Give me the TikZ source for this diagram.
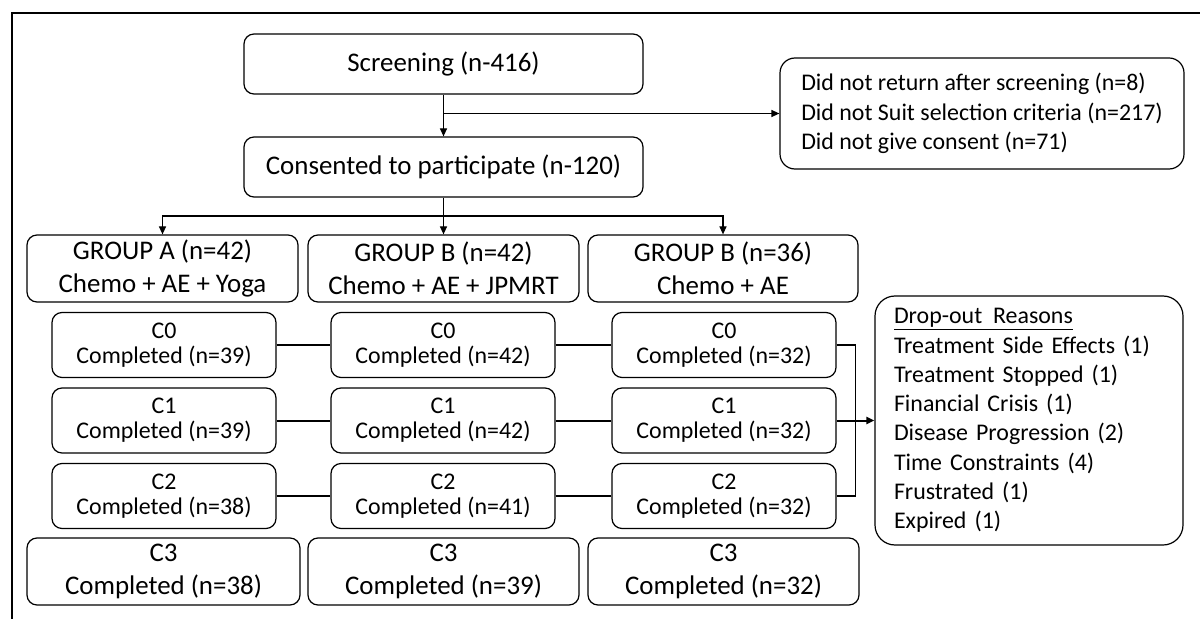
\documentclass[tikz,border=0pt]{standalone}
\usepackage{fontspec}
\setmainfont{Carlito}
\usepackage{tikz}
\usetikzlibrary{arrows.meta,positioning,calc}

\tikzset{
  box/.style={draw, rounded corners=10bp, line width=1.2bp, align=center, inner sep=0pt},
  bigbox/.style={box, minimum height=67bp, font=\fontsize{27}{33}\selectfont},
  visbox/.style={box, minimum width=224bp, minimum height=65bp, font=\fontsize{24}{25}\selectfont},
  listbox/.style={draw, line width=1.2bp, align=left, inner ysep=0pt, font=\fontsize{24}{29.4}\selectfont},
  arr/.style={line width=1.2bp, -{Triangle[length=8bp,width=7bp]}},
  link/.style={line width=2bp},
}

\begin{document}
\begin{tikzpicture}[x=1bp,y=-1bp]
        \useasboundingbox (0,0) rectangle (1200,619);
        \draw[line width=2bp] (12,619) -- (12,13) -- (1200,13);

        % enrolment
        \node[box, minimum width=399bp, minimum height=60bp, font=\fontsize{27}{33}\selectfont] (scr) at (443.5,64) {Screening (n-416)};
        \node[box, minimum width=399bp, minimum height=60bp, font=\fontsize{27}{33}\selectfont] (cons) at (443.5,167) {Consented to participate (n-120)};
        \node[listbox, rounded corners=15bp, minimum width=404bp, minimum height=111bp] (excl) at (982,113.5)
            {Did not return after screening (n=8)\\Did not Suit selection criteria (n=217)\\Did not give consent (n=71)};
        \draw[arr] (scr) -- (cons);
        \draw[arr] (scr.south |- excl.west) -- (excl.west);

        % groups
        \node[bigbox, minimum width=271bp] (gA) at (162.5,268.5) {GROUP A (n=42)\\Chemo + AE + Yoga};
        \node[bigbox, minimum width=271bp] (gB) at (443.5,268.5) {GROUP B (n=42)\\Chemo + AE + JPMRT};
        \node[bigbox, minimum width=270bp] (gC) at (723,268.5) {GROUP B (n=36)\\Chemo + AE};
        \coordinate (split) at (443.5,216);
        \draw[line width=1.2bp] (cons) -- (split);
        \draw[arr] (split) -| (gA.north);
        \draw[arr] (split) -- (gB.north);
        \draw[arr] (split) -| (gC.north);

        % visits C0 - C2
        \foreach \r/\y/\na/\nb/\nc in {0/345/39/42/32, 1/420.5/39/42/32, 2/496/38/41/32} {
            \node[visbox] (c\r a) at (164,\y) {C\r\\Completed (n=\na)};
            \node[visbox] (c\r b) at (443,\y) {C\r\\Completed (n=\nb)};
            \node[visbox] (c\r c) at (724,\y) {C\r\\Completed (n=\nc)};
        }
        \draw[link] (c0a) -- (c0b);
        \draw[link] (c0b) -- (c0c);
        \draw[link] (c1a) -- (c1b);
        \draw[link] (c1b) -- (c1c);
        \draw[line width=1.2bp] (c2a) -- (c2b);
        \draw[line width=1.2bp] (c2b) -- (c2c);

        % visit C3
        \node[bigbox, minimum width=273bp] (c3a) at (163.5,571.5) {C3\\Completed (n=38)};
        \node[bigbox, minimum width=271bp] (c3b) at (443.5,571.5) {C3\\Completed (n=39)};
        \node[bigbox, minimum width=271bp] (c3c) at (723.5,571.5) {C3\\Completed (n=32)};

        % drop-outs
        \node[listbox, rounded corners=20bp, text width=270bp, inner xsep=19bp, minimum height=249bp] (drop) at (1029,420.5)
            {\underline{Drop-out\hspace{0.45em}Reasons}\\Treatment Side Effects (1)\\Treatment Stopped (1)\\Financial Crisis (1)\\Disease Progression (2)\\Time Constraints (4)\\Frustrated (1)\\Expired (1)};
        \draw[line width=1.2bp] (c0c.east) -- ++(19,0) |- (c2c.east);
        \draw[arr, line width=2bp] (c1c.east) -- (drop.west);
    \end{tikzpicture}
\end{document}
